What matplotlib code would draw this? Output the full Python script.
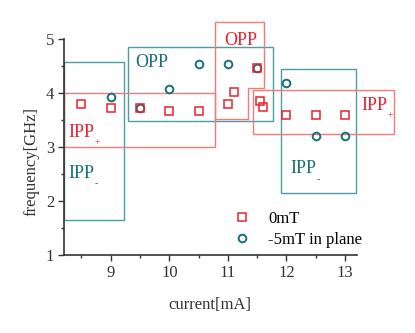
import matplotlib.pyplot as plt
from matplotlib.patches import Rectangle, Polygon

plt.rcParams['font.family'] = ['Liberation Serif', 'DejaVu Serif']

# 0mT
cur_0 = [8.5, 9.0, 9.5, 10.0, 10.5, 11.0, 11.1, 11.5, 11.55, 11.6, 12.0, 12.5, 13.0]
freq_0 = [3.79, 3.73, 3.73, 3.67, 3.67, 3.79, 4.02, 4.46, 3.85, 3.74, 3.59, 3.59, 3.59]

# -5mT in plane
cur_5 = [9.0, 9.5, 10.0, 10.5, 11.0, 11.5, 12.0, 12.5, 13.0]
freq_5 = [3.93, 3.73, 4.07, 4.53, 4.53, 4.46, 4.19, 3.20, 3.20]

red = '#e8232e'
teal = '#17707a'
red_box = '#f27a7a'
teal_box = '#4c9ea4'
axc = '#333333'

fig = plt.figure(figsize=(4.15, 3.33), dpi=100)
ax = fig.add_axes([0.154, 0.234, 0.7055, 0.649])

# mode regions (x0, y0, width, height)
teal_regions = [(8.2, 1.64, 1.02, 2.93), (9.3, 3.48, 2.47, 1.38), (11.91, 2.14, 1.28, 2.30)]
red_regions = [(8.2, 3.0, 2.58, 1.0), (11.43, 3.25, 2.41, 0.80)]
red_opp = [(10.78, 5.32), (11.62, 5.32), (11.62, 4.10), (11.35, 4.10), (11.35, 3.52), (10.78, 3.52)]

for x0, y0, w, h in teal_regions:
    ax.add_patch(Rectangle((x0, y0), w, h, fill=False, ec=teal_box, lw=1.0, clip_on=False, zorder=2))
for x0, y0, w, h in red_regions:
    ax.add_patch(Rectangle((x0, y0), w, h, fill=False, ec=red_box, lw=1.0, clip_on=False, zorder=2))
ax.add_patch(Polygon(red_opp, closed=True, fill=False, ec=red_box, lw=1.0, clip_on=False, zorder=2))

ax.plot(cur_0, freq_0, ls='none', marker='s', ms=5.5, mfc='none', mec=red, mew=1.1,
        label='0mT', zorder=4, clip_on=False)
ax.plot(cur_5, freq_5, ls='none', marker='o', ms=5.5, mfc='none', mec=teal, mew=1.4,
        label='-5mT in plane', zorder=3, clip_on=False)

# labels of the regions
def mode_label(x, y, sub, color):
    ax.text(x, y, 'IPP', color=color, fontsize=13, clip_on=False)
    ax.annotate(sub, (x, y), xytext=(19, -6), textcoords='offset points', color=color,
                fontsize=7, annotation_clip=False)

ax.text(9.41, 4.49, 'OPP', color=teal, fontsize=13)
ax.text(10.94, 4.89, 'OPP', color=red, fontsize=13)
mode_label(8.27, 3.19, '+', red)
mode_label(8.28, 2.43, '-', teal)
mode_label(13.28, 3.69, '+', red)
mode_label(12.06, 2.51, '-', teal)

ax.set_xlim(8.2, 13.2)
ax.set_ylim(1, 5)
ax.set_xticks([9, 10, 11, 12, 13])
ax.set_xticks([8.5, 9.5, 10.5, 11.5, 12.5], minor=True)
ax.set_yticks([1, 2, 3, 4, 5])
ax.set_yticks([1.5, 2.5, 3.5, 4.5], minor=True)

for s in ['top', 'right']:
    ax.spines[s].set_visible(False)
for s in ['left', 'bottom']:
    ax.spines[s].set_color(axc)
    ax.spines[s].set_linewidth(1.2)
ax.tick_params(which='major', length=4, width=1.0, color=axc, labelcolor=axc, labelsize=12, pad=3)
ax.tick_params(which='minor', length=2, width=1.0, color=axc)

ax.set_xlabel('current[mA]', fontsize=12, color=axc, labelpad=12)
ax.set_ylabel('frequency[GHz]', fontsize=12, color=axc)
ax.yaxis.set_label_coords(-0.085, 0.435)

ax.legend(loc='lower left', bbox_to_anchor=(0.515, -0.035), frameon=False, fontsize=12,
          handletextpad=0.8, labelspacing=0.3, handlelength=1.5)

fig.savefig('out.png', dpi=100)
